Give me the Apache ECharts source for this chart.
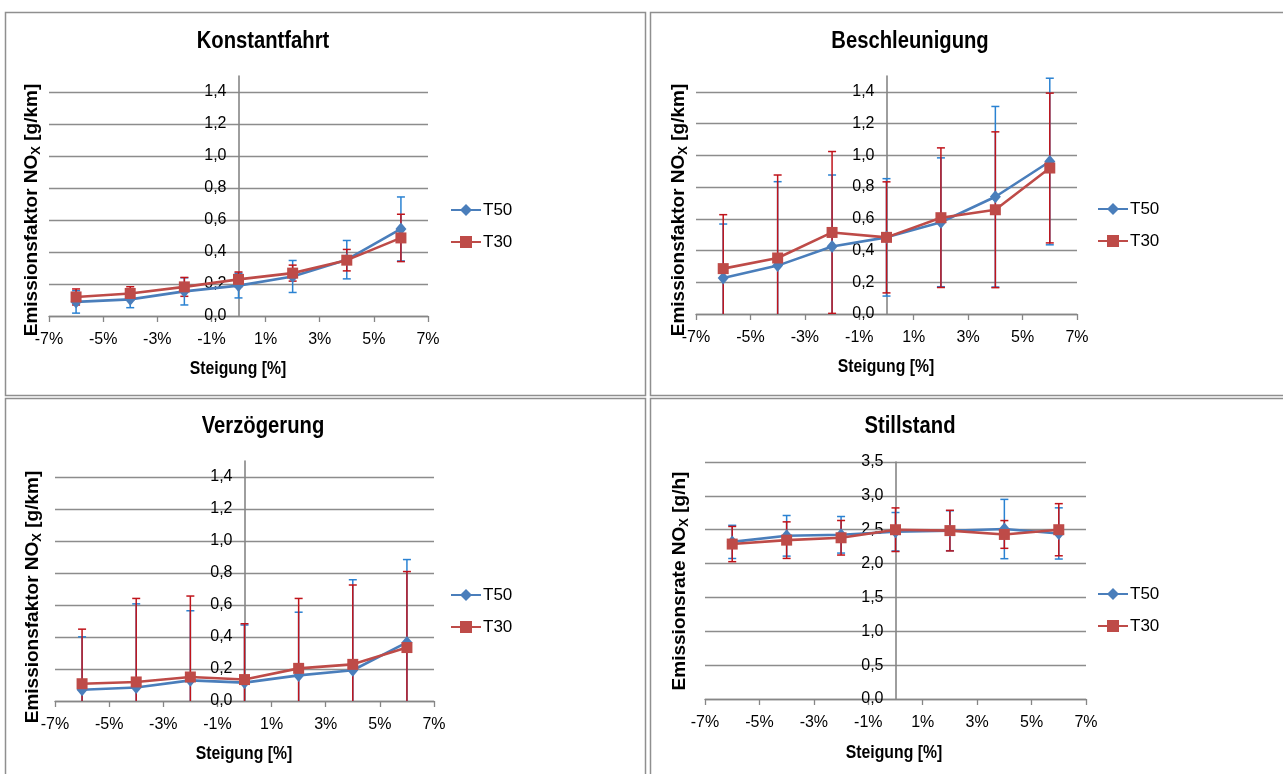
<!DOCTYPE html>
<html><head><meta charset="utf-8">
<script src="https://cdn.jsdelivr.net/npm/echarts@6/dist/echarts.min.js"></script>
<style>html,body{margin:0;padding:0;background:#fff}#c{width:1283px;height:774px}</style>
</head><body><div id="c"></div>
<script>
// ---------- data ----------
const slopes = [-6, -4, -2, 0, 2, 4, 6];
const titles = ['Konstantfahrt', 'Beschleunigung', 'Verzögerung', 'Stillstand'];
const xName = 'Steigung [%]';
const seriesNames = ['T50', 'T30'];

// Konstantfahrt
const konstT50 = [0.088, 0.104, 0.154, 0.190, 0.247, 0.352, 0.544];
const konstT50Err = [0.070, 0.052, 0.085, 0.077, 0.100, 0.120, 0.200];
const konstT30 = [0.119, 0.141, 0.182, 0.229, 0.268, 0.349, 0.488];
const konstT30Err = [0.050, 0.042, 0.059, 0.046, 0.050, 0.067, 0.148];
// Beschleunigung
const beschT50 = [0.227, 0.305, 0.426, 0.483, 0.578, 0.739, 0.961];
const beschT50Err = [0.340, 0.529, 0.450, 0.370, 0.406, 0.569, 0.525];
const beschT30 = [0.286, 0.353, 0.514, 0.483, 0.607, 0.657, 0.920];
const beschT30Err = [0.340, 0.523, 0.510, 0.350, 0.440, 0.491, 0.472];
// Verzögerung
const verzT50 = [0.070, 0.084, 0.129, 0.115, 0.160, 0.192, 0.366];
const verzT50Err = [0.331, 0.523, 0.435, 0.360, 0.395, 0.566, 0.518];
const verzT30 = [0.108, 0.119, 0.150, 0.134, 0.204, 0.229, 0.334];
const verzT30Err = [0.341, 0.522, 0.506, 0.349, 0.437, 0.496, 0.475];
// Stillstand
const stillT50 = [2.320, 2.410, 2.425, 2.470, 2.485, 2.510, 2.445];
const stillT50Err = [0.245, 0.300, 0.270, 0.284, 0.295, 0.438, 0.378];
const stillT30 = [2.288, 2.346, 2.381, 2.500, 2.487, 2.430, 2.500];
const stillT30Err = [0.260, 0.270, 0.255, 0.322, 0.300, 0.205, 0.385];

const yMax = [1.5, 1.5, 1.5, 3.5];
const yInterval = [0.2, 0.2, 0.2, 0.5];
const xMin = -7, xMax = 7, xInterval = 2;

// ---------- layout / style ----------
const FONT = "'Liberation Sans', Arial, sans-serif";
const BLUE = '#4A7EBB', RED = '#BE4B48';
const EBLUE = '#2A82D2', ERED = '#C0141B';
const GRID_C = '#8c8c8c';

const panels = [
  {grid: {left: 49, top: 76, width: 379, height: 240}, t50: konstT50, e50: konstT50Err, t30: konstT30, e30: konstT30Err,
   yName: 'Emissionsfaktor NO{sub|X} [g/km]', title: [263, 42], xn: [238, 369], yn: [32, 210], leg: [445, 196], box: [5, 12, 640, 383]},
  {grid: {left: 696, top: 76, width: 381, height: 238}, t50: beschT50, e50: beschT50Err, t30: beschT30, e30: beschT30Err,
   yName: 'Emissionsfaktor NO{sub|X} [g/km]', title: [910, 42], xn: [886, 367], yn: [679, 210], leg: [1092, 195], box: [650, 12, 660, 383]},
  {grid: {left: 55, top: 461, width: 379, height: 240}, t50: verzT50, e50: verzT50Err, t30: verzT30, e30: verzT30Err,
   yName: 'Emissionsfaktor NO{sub|X} [g/km]', title: [263, 427], xn: [244, 754], yn: [33, 597], leg: [445, 581], box: [5, 398, 640, 400]},
  {grid: {left: 705, top: 462, width: 381, height: 237}, t50: stillT50, e50: stillT50Err, t30: stillT30, e30: stillT30Err,
   yName: 'Emissionsrate NO{sub|X} [g/h]', title: [910, 427], xn: [894, 753], yn: [680, 581], leg: [1092, 580], box: [650, 398, 660, 400]}
];

function errRender(color) {
  return function (params, api) {
    const x = api.value(0), lo = api.value(1), hi = api.value(2);
    const pLo = api.coord([x, lo]), pHi = api.coord([x, hi]);
    const hw = 4;
    const style = {stroke: color, lineWidth: 1.5, fill: null};
    return {type: 'group', children: [
      {type: 'line', shape: {x1: pLo[0], y1: pLo[1], x2: pHi[0], y2: pHi[1]}, style: style},
      {type: 'line', shape: {x1: pHi[0] - hw, y1: pHi[1], x2: pHi[0] + hw, y2: pHi[1]}, style: style},
      {type: 'line', shape: {x1: pLo[0] - hw, y1: pLo[1], x2: pLo[0] + hw, y2: pLo[1]}, style: style}
    ]};
  };
}

const grids = [], xAxes = [], yAxes = [], series = [], legends = [], graphics = [];
panels.forEach((p, i) => {
  grids.push(Object.assign({containLabel: false}, p.grid));
  const hideMax = i < 3;
  xAxes.push({
    gridIndex: i, type: 'value', min: xMin, max: xMax, interval: xInterval,
    axisLine: {show: true, onZero: true, lineStyle: {color: '#868686', width: 1.3}},
    axisTick: {show: true, length: 6, lineStyle: {color: '#868686', width: 1.3}},
    axisLabel: {formatter: v => v + '%', color: '#000', fontSize: 16, fontFamily: FONT, margin: 16},
    splitLine: {show: false}
  });
  // vertical axis crosses the horizontal one at 0 % (centre of the symmetric -7..7 range)
  yAxes.push({
    gridIndex: i, type: 'value', min: 0, max: yMax[i], interval: yInterval[i],
    position: 'left', offset: -p.grid.width / 2,
    axisLine: {show: true, onZero: false, lineStyle: {color: '#868686', width: 1.6}},
    axisTick: {show: false},
    axisLabel: {formatter: v => v.toFixed(1).replace('.', ','), color: '#000', fontSize: 16, fontFamily: FONT, margin: 12,
      showMaxLabel: !hideMax},
    splitLine: {show: true, showMaxLine: !hideMax, lineStyle: {color: GRID_C, width: 1.3}}
  });
  series.push({
    type: 'custom', name: 'T50 Fehler', xAxisIndex: i, yAxisIndex: i, clip: true, z: 2,
    renderItem: errRender(EBLUE), encode: {x: 0, y: [1, 2]},
    data: slopes.map((x, k) => [x, p.t50[k] - p.e50[k], p.t50[k] + p.e50[k]])
  });
  series.push({
    type: 'custom', name: 'T30 Fehler', xAxisIndex: i, yAxisIndex: i, clip: true, z: 2,
    renderItem: errRender(ERED), encode: {x: 0, y: [1, 2]},
    data: slopes.map((x, k) => [x, p.t30[k] - p.e30[k], p.t30[k] + p.e30[k]])
  });
  series.push({
    type: 'line', name: seriesNames[0], xAxisIndex: i, yAxisIndex: i, z: 3,
    data: slopes.map((x, k) => [x, p.t50[k]]),
    symbol: 'diamond', symbolSize: [11, 13], showAllSymbol: true,
    lineStyle: {color: BLUE, width: 2.6}, itemStyle: {color: BLUE}
  });
  series.push({
    type: 'line', name: seriesNames[1], xAxisIndex: i, yAxisIndex: i, z: 4,
    data: slopes.map((x, k) => [x, p.t30[k]]),
    symbol: 'rect', symbolSize: [11, 11], showAllSymbol: true,
    lineStyle: {color: RED, width: 2.6}, itemStyle: {color: RED}
  });
  legends.push({
    data: seriesNames, orient: 'vertical', left: p.leg[0], top: p.leg[1],
    itemWidth: 30, itemHeight: 15, itemGap: 14, selectedMode: false,
    textStyle: {color: '#000', fontSize: 17, fontFamily: FONT, lineHeight: 18, padding: [0, 0, 0, -3]}
  });
  // panel border
  graphics.push({type: 'rect', silent: true, z: -10,
    shape: {x: p.box[0] + 0.5, y: p.box[1] + 0.5, width: p.box[2], height: p.box[3]},
    style: {fill: 'none', stroke: '#8f8f8f', lineWidth: 1.5}});
  // title
  graphics.push({type: 'text', x: p.title[0], y: p.title[1], scaleX: 0.88, silent: true,
    style: {text: titles[i], fill: '#000', font: 'bold 23px ' + FONT, align: 'center', verticalAlign: 'middle',
      textAlign: 'center', textVerticalAlign: 'middle'}});
  // x axis name
  graphics.push({type: 'text', x: p.xn[0], y: p.xn[1], scaleX: 0.83, silent: true,
    style: {text: xName, fill: '#000', font: 'bold 19px ' + FONT, align: 'center', verticalAlign: 'middle',
      textAlign: 'center', textVerticalAlign: 'middle'}});
  // y axis name (rotated)
  graphics.push({type: 'text', x: p.yn[0], y: p.yn[1], rotation: Math.PI / 2, silent: true,
    style: {text: p.yName, fill: '#000', fontSize: 19, fontWeight: 'bold', fontFamily: FONT, lineHeight: 22,
      align: 'center', verticalAlign: 'middle', textAlign: 'center', textVerticalAlign: 'middle',
      rich: {sub: {fontSize: 13, fontWeight: 'bold', fontFamily: FONT, lineHeight: 14, verticalAlign: 'bottom', fill: '#000'}}}});
});

const chart = echarts.init(document.getElementById('c'), null, {renderer: 'canvas'});
chart.setOption({
  animation: false,
  backgroundColor: '#fff',
  grid: grids, xAxis: xAxes, yAxis: yAxes, series: series, legend: legends,
  graphic: graphics
});
</script></body></html>
